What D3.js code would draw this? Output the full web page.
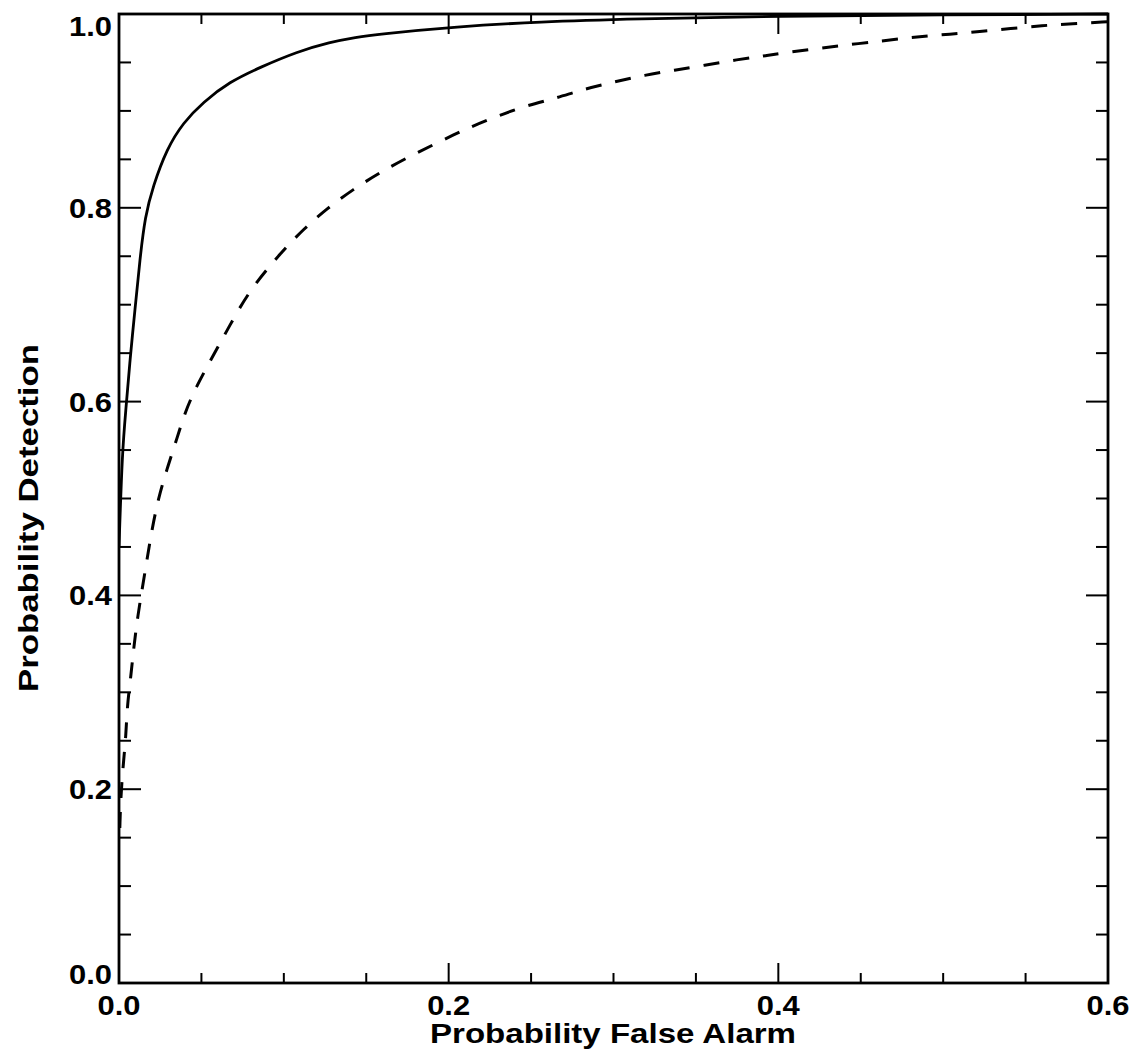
<!DOCTYPE html>
<html>
<head>
<meta charset="utf-8">
<script src="https://cdn.jsdelivr.net/npm/d3@7"></script>
<style>
  html, body { margin: 0; padding: 0; background: #fff; }
  svg { display: block; }
  text { font-family: "Liberation Sans", Arial, Helvetica, sans-serif; font-weight: bold; fill: #000; }
</style>
</head>
<body>
<div id="chart"></div>
<script>
// ---- Data ----
const solidFalseAlarm = [0.0, 0.002, 0.0042, 0.0067, 0.0097, 0.0127, 0.0158, 0.0206, 0.029, 0.039, 0.051, 0.067, 0.0856, 0.108, 0.128, 0.144, 0.156, 0.205, 0.255, 0.312, 0.40, 0.50, 0.60];
const solidDetection  = [0.45, 0.55, 0.592, 0.644, 0.695, 0.747, 0.791, 0.822, 0.861, 0.888, 0.909, 0.930, 0.945, 0.961, 0.971, 0.976, 0.979, 0.987, 0.992, 0.995, 0.998, 0.999, 1.0];

const dashedFalseAlarm = [0.0005, 0.001, 0.0024, 0.0042, 0.0049, 0.0073, 0.009, 0.0115, 0.014, 0.017, 0.020, 0.0237, 0.029, 0.035, 0.040, 0.047, 0.057, 0.067, 0.0795, 0.0995, 0.112, 0.126, 0.142, 0.158, 0.175, 0.193, 0.210, 0.227, 0.246, 0.265, 0.283, 0.301, 0.319, 0.337, 0.355, 0.375, 0.393, 0.411, 0.486, 0.504, 0.522, 0.541, 0.560, 0.578, 0.600];
const dashedDetection  = [0.16, 0.189, 0.223, 0.254, 0.285, 0.318, 0.347, 0.380, 0.406, 0.437, 0.468, 0.499, 0.530, 0.561, 0.589, 0.616, 0.647, 0.678, 0.716, 0.756, 0.778, 0.799, 0.819, 0.836, 0.852, 0.867, 0.881, 0.893, 0.905, 0.913, 0.923, 0.930, 0.937, 0.942, 0.947, 0.953, 0.957, 0.962, 0.977, 0.979, 0.982, 0.985, 0.988, 0.990, 0.992];

const xMajorTicks = [0.0, 0.2, 0.4, 0.6];
const xTickLabels = ["0.0", "0.2", "0.4", "0.6"];
const yMajorTicks = [0.0, 0.2, 0.4, 0.6, 0.8, 1.0];
const yTickLabels = ["0.0", "0.2", "0.4", "0.6", "0.8", "1.0"];
const xTitle = "Probability False Alarm";
const yTitle = "Probability Detection";

// ---- Layout ----
const W = 1134, H = 1061;
const pL = 119, pR = 1108, pT = 14, pB = 983;

const svg = d3.select("#chart").append("svg").attr("width", W).attr("height", H);

const x = d3.scaleLinear().domain([0, 0.6]).range([pL, pR]);
const y = d3.scaleLinear().domain([0, 1.0]).range([pB, pT]);

const xMinor = d3.range(0, 0.6001, 0.05).map(v => +v.toFixed(3));
const yMinor = d3.range(0, 1.0001, 0.05).map(v => +v.toFixed(3));
const isMajorX = v => xMajorTicks.some(m => Math.abs(m - v) < 1e-6);
const isMajorY = v => yMajorTicks.some(m => Math.abs(m - v) < 1e-6);

const MAJ = 20, MIN = 10;
const tickG = svg.append("g").attr("stroke", "#000").attr("stroke-width", 2);

// bottom & top ticks
xMinor.forEach(v => {
  const L = isMajorX(v) ? MAJ : MIN;
  tickG.append("line").attr("x1", x(v)).attr("x2", x(v)).attr("y1", pB).attr("y2", pB - L);
  tickG.append("line").attr("x1", x(v)).attr("x2", x(v)).attr("y1", pT).attr("y2", pT + L);
});
// left & right ticks
yMinor.forEach(v => {
  const L = isMajorY(v) ? MAJ + 2 : MIN + 2;
  tickG.append("line").attr("y1", y(v)).attr("y2", y(v)).attr("x1", pL).attr("x2", pL + L);
  tickG.append("line").attr("y1", y(v)).attr("y2", y(v)).attr("x1", pR).attr("x2", pR - L);
});

// frame
svg.append("rect")
  .attr("x", pL).attr("y", pT)
  .attr("width", pR - pL).attr("height", pB - pT)
  .attr("fill", "none").attr("stroke", "#000").attr("stroke-width", 2.8);

// curves
svg.append("clipPath").attr("id", "clip")
  .append("rect").attr("x", pL).attr("y", pT - 2).attr("width", pR - pL).attr("height", pB - pT + 4);

const line = d3.line().x(d => x(d[0])).y(d => y(d[1])).curve(d3.curveBasis);

const solid = solidFalseAlarm.map((v, i) => [v, solidDetection[i]]);
const dashed = dashedFalseAlarm.map((v, i) => [v, dashedDetection[i]]);

svg.append("path").datum(solid)
  .attr("clip-path", "url(#clip)")
  .attr("d", line).attr("fill", "none").attr("stroke", "#000").attr("stroke-width", 2.8);

svg.append("path").datum(dashed)
  .attr("clip-path", "url(#clip)")
  .attr("d", line).attr("fill", "none").attr("stroke", "#000").attr("stroke-width", 3)
  .attr("stroke-dasharray", "16,14");

// tick labels
const FS = 27;
xMajorTicks.forEach((v, i) => {
  svg.append("text")
    .attr("x", x(v)).attr("y", 1015)
    .attr("text-anchor", "middle")
    .attr("font-size", FS)
    .attr("textLength", 43).attr("lengthAdjust", "spacingAndGlyphs")
    .text(xTickLabels[i]);
});
yMajorTicks.forEach((v, i) => {
  let cy = y(v);
  if (v === 1.0) cy += 12;
  if (v === 0.0) cy -= 9;
  svg.append("text")
    .attr("x", 112).attr("y", cy + 10)
    .attr("text-anchor", "end")
    .attr("font-size", FS)
    .attr("textLength", 43).attr("lengthAdjust", "spacingAndGlyphs")
    .text(yTickLabels[i]);
});

// axis titles
svg.append("text")
  .attr("x", 613).attr("y", 1043)
  .attr("text-anchor", "middle")
  .attr("font-size", FS)
  .attr("textLength", 366).attr("lengthAdjust", "spacingAndGlyphs")
  .text(xTitle);

svg.append("text")
  .attr("transform", "translate(38,518) rotate(-90)")
  .attr("text-anchor", "middle")
  .attr("font-size", FS)
  .attr("textLength", 348).attr("lengthAdjust", "spacingAndGlyphs")
  .text(yTitle);
</script>
</body>
</html>
